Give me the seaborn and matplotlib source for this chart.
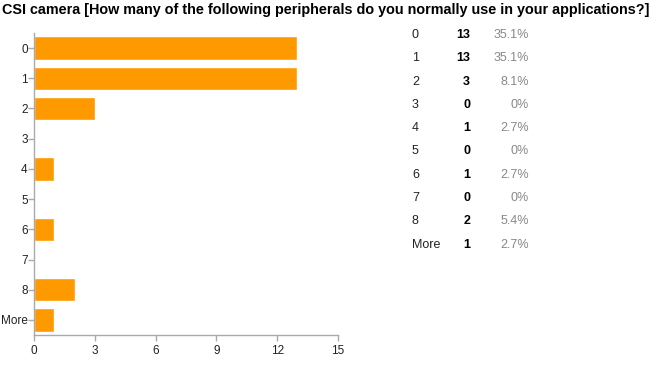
import matplotlib
matplotlib.use("Agg")
import matplotlib.pyplot as plt
import seaborn as sns
import pandas as pd

categories = ["0", "1", "2", "3", "4", "5", "6", "7", "8", "More"]
counts = [13, 13, 3, 0, 1, 0, 1, 0, 2, 1]
percents = ["35.1%", "35.1%", "8.1%", "0%", "2.7%", "0%", "2.7%", "0%", "5.4%", "2.7%"]
xticks = [0, 3, 6, 9, 12, 15]
title = "CSI camera [How many of the following peripherals do you normally use in your applications?]"

sns.set_theme(style="white")
plt.rcParams['font.family'] = ['Liberation Sans', 'DejaVu Sans']

df = pd.DataFrame({"cat": categories, "n": counts})

fig = plt.figure(figsize=(6.59, 3.70), dpi=100)
ax = fig.add_axes([34/659, 1-335/370, (338-34)/659, (335-33)/370])
sns.barplot(data=df, y="cat", x="n", order=categories, color="#FF9900",
            saturation=1, width=0.78, ax=ax, orient="h")
ax.set_xlim(0, 15)
ax.set_ylim(len(categories)-0.5, -0.5)
ax.set_xticks(xticks)
ax.set_xticklabels([str(t) for t in xticks])
ax.set_xlabel("")
ax.set_ylabel("")
for s in ["top", "right"]:
    ax.spines[s].set_visible(False)
for s in ["left", "bottom"]:
    ax.spines[s].set_color("#aaaaaa")
    ax.spines[s].set_linewidth(1)
ax.tick_params(axis="both", which="both", length=4, width=1, color="#aaaaaa",
               labelsize=8.5, labelcolor="#222222", direction="out")
ax.tick_params(axis="x", pad=3)
ax.tick_params(axis="y", pad=0.5)
ax.tick_params(left=True, bottom=True)

fig.text(2/659, 1-10/370, title, fontsize=10.35, fontweight="bold", ha="left",
         va="center", color="#000000")

for i, (c, n, p) in enumerate(zip(categories, counts, percents)):
    y = 1 - (35 + i*23.3)/370
    fig.text(412/659, y, c, fontsize=9, ha="left", va="center", color="#222222")
    fig.text(470/659, y, str(n), fontsize=9, fontweight="bold", ha="right", va="center", color="#000000")
    fig.text(529/659, y, p, fontsize=9, ha="right", va="center", color="#888888")

fig.savefig("out.png", dpi=100)
